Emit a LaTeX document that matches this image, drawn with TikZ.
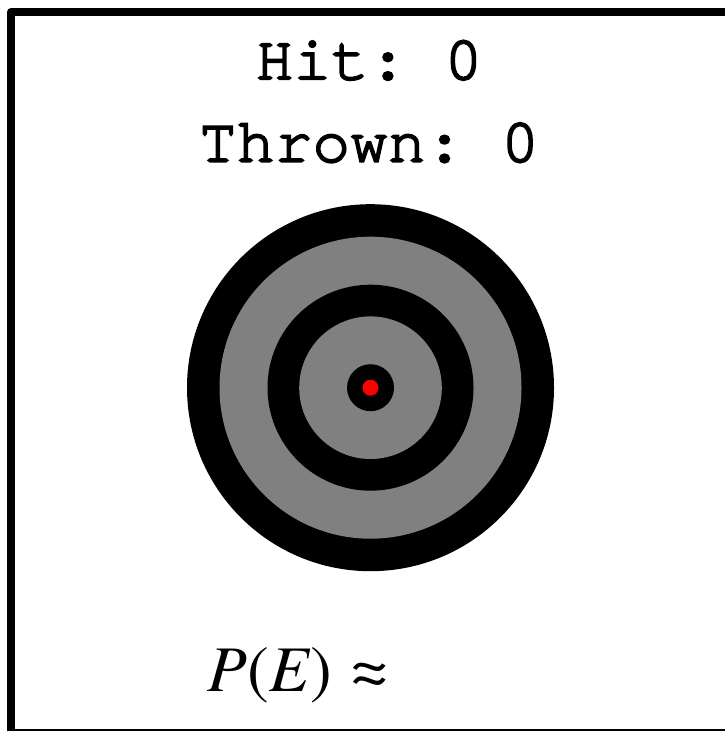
\documentclass[tikz,border=0pt]{standalone}
\usepackage{fontspec}
\setmainfont{texgyretermes}[Extension=.otf, UprightFont=*-regular, ItalicFont=*-italic, BoldFont=*-bold]
\setmonofont{texgyrecursor}[Extension=.otf, UprightFont=*-regular, FakeBold=3]
\usepackage{tikz}
\usetikzlibrary{calc,positioning}
\tikzset{
	x=0.01cm, y=-0.01cm,
	frame/.style = {draw, line width=0.08cm, line join=round},
	counter/.style = {font=\fontsize{17.9}{20}\selectfont\ttfamily, inner sep=0pt, anchor=base},
	estimate/.style = {font=\fontsize{18.5}{22}\selectfont, inner sep=0pt, anchor=base west},
	ring/.style = {fill=black},
	band/.style = {fill=gray},
}

\begin{document}
\begin{tikzpicture}
    \useasboundingbox (0,0) rectangle (724,731);
    \draw[frame] (11,12) rectangle (734,733);
    % target
    \coordinate (c) at (370.5,387.7);
    \fill[ring] (c) circle (183.5);
    \fill[band] (c) circle (151);
    \fill[ring] (c) circle (103);
    \fill[band] (c) circle (71.3);
    \fill[ring] (c) circle (23.5);
    \fill[red] (c) circle (8);
    % texts
    \node[counter] (hit) at (369,79.3) {Hit: 0};
    \node[counter] (thrown) at (369,161.7) {Thrown: 0};
    \node[estimate] (pe) at (207,691.7) {\textit{P}(\textit{E})\hspace{0.3em}≈};
\end{tikzpicture}
\end{document}
